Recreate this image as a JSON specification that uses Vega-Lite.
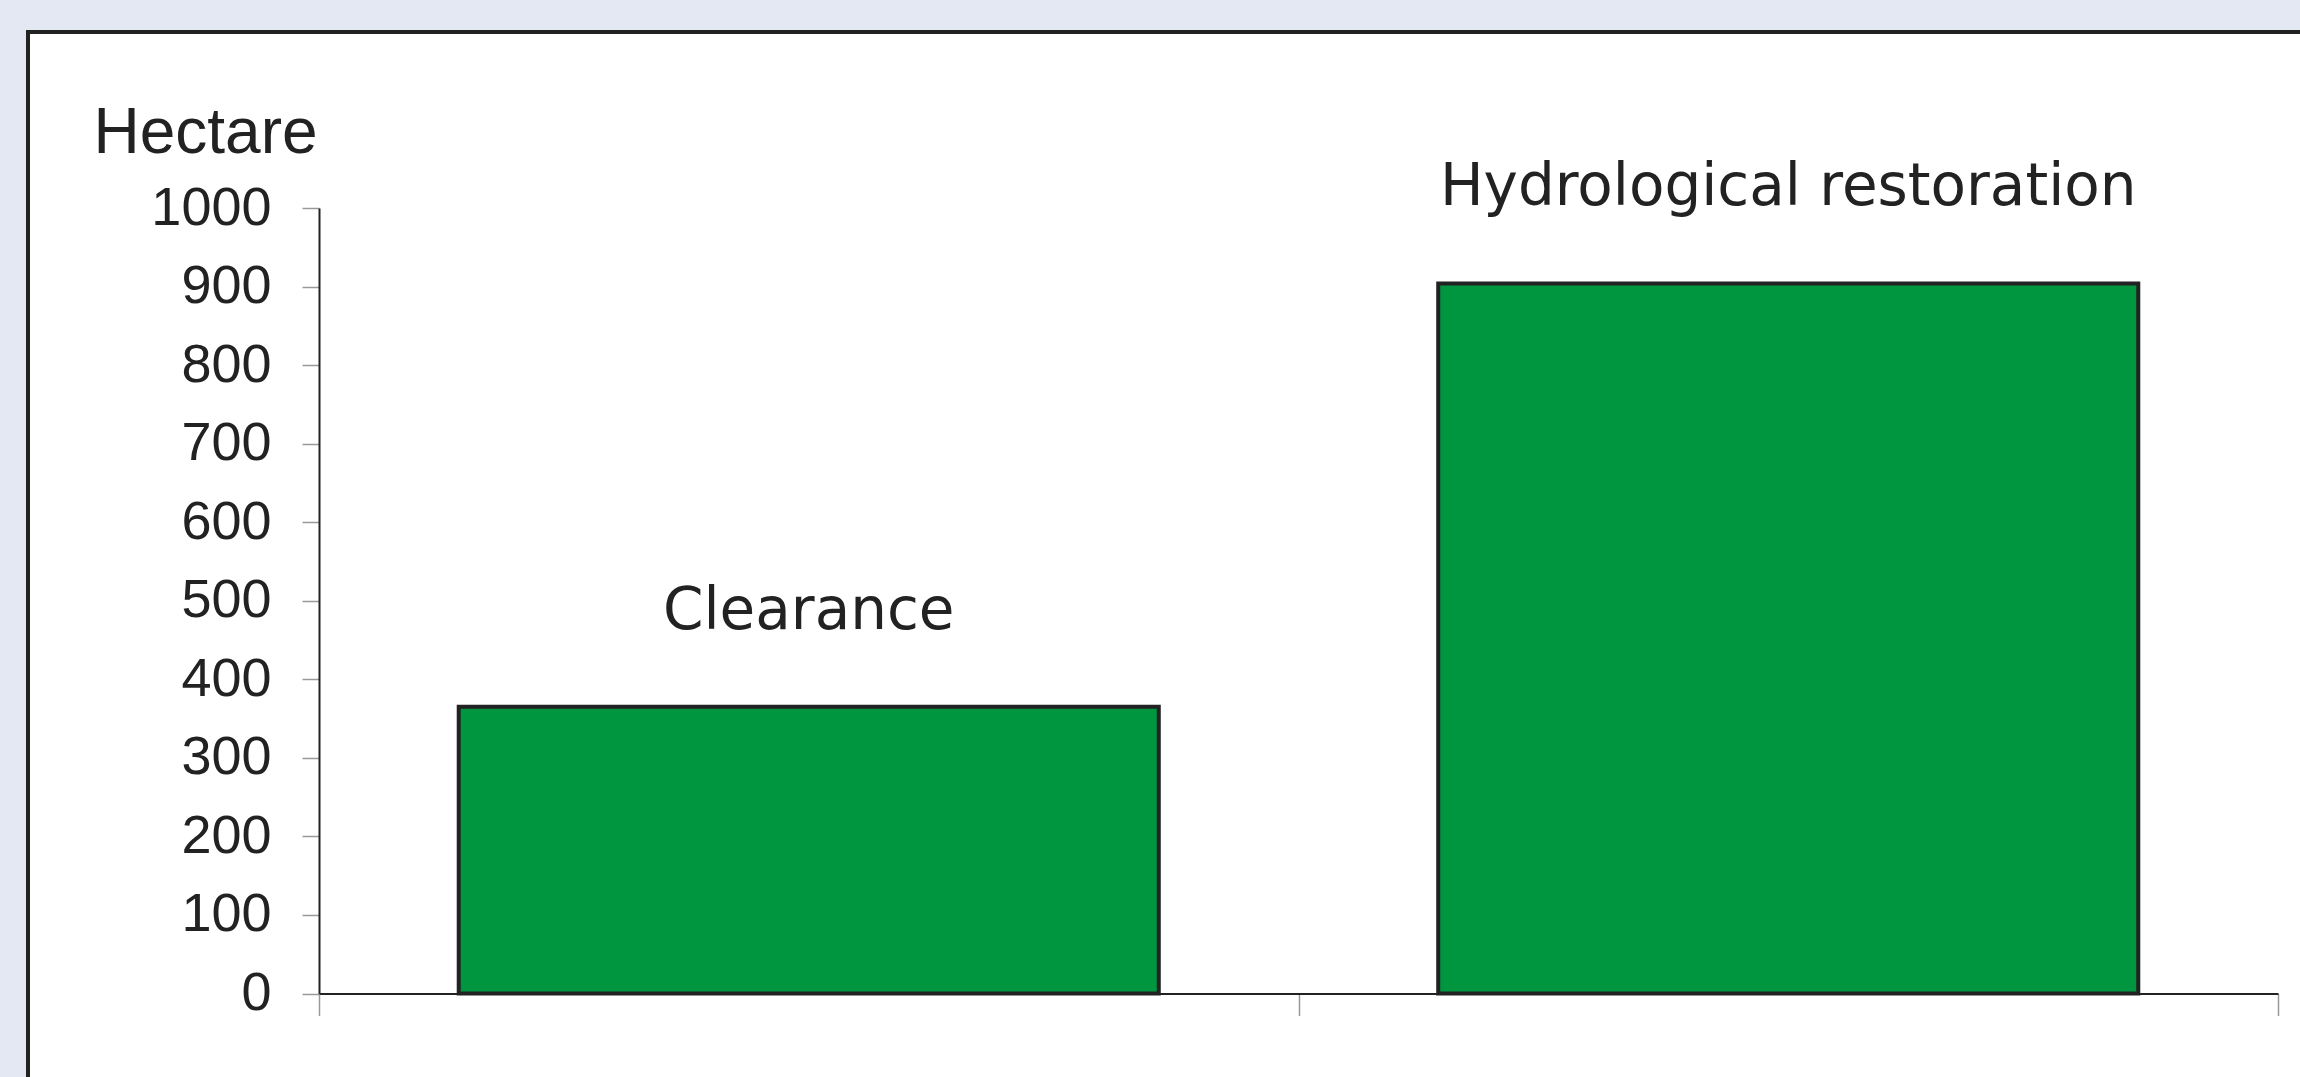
{
  "$schema": "https://vega.github.io/schema/vega-lite/v6.json",
  "autosize": "none",
  "width": 2282,
  "height": 1055,
  "padding": {"left": 28, "top": 32, "right": -10, "bottom": -10},
  "background": "#e3e8f2",
  "config": {
    "view": {"fill": "#ffffff", "stroke": "#222222", "strokeWidth": 4},
    "font": "Liberation Sans"
  },
  "data": {
    "values": [
      {"category": "Clearance", "hectare": 365},
      {"category": "Hydrological restoration", "hectare": 904}
    ]
  },
  "encoding": {
    "x": {
      "field": "category",
      "type": "nominal",
      "sort": null,
      "scale": {"range": [291, 2250], "paddingInner": 0, "paddingOuter": 0},
      "axis": {
        "title": null,
        "labels": false,
        "offset": -93.5,
        "tickBand": "extent",
        "domainColor": "#222222",
        "domainWidth": 2,
        "tickColor": "#999999",
        "tickWidth": 1.5,
        "tickSize": 22
      }
    },
    "y": {
      "field": "hectare",
      "type": "quantitative",
      "scale": {"domain": [0, 1000], "range": [961.5, 176], "nice": false},
      "axis": {
        "offset": -291,
        "values": [0, 100, 200, 300, 400, 500, 600, 700, 800, 900, 1000],
        "format": "d",
        "grid": false,
        "domainColor": "#222222",
        "domainWidth": 2,
        "tickColor": "#999999",
        "tickWidth": 1.5,
        "tickSize": 17,
        "labelFont": "Liberation Sans",
        "labelFontSize": 54,
        "labelColor": "#222222",
        "labelPadding": 31,
        "title": "Hectare",
        "titleFont": "Liberation Sans",
        "titleFontSize": 64,
        "titleFontWeight": "normal",
        "titleColor": "#222222",
        "titleAngle": 0,
        "titleAlign": "left",
        "titleBaseline": "alphabetic",
        "titleX": -226,
        "titleY": 120
      }
    }
  },
  "layer": [
    {
      "mark": {
        "type": "bar",
        "width": {"band": 0.7147},
        "color": "#009640",
        "stroke": "#222222",
        "strokeWidth": 4
      }
    },
    {
      "mark": {
        "type": "text",
        "font": "DejaVu Sans",
        "fontSize": 58,
        "color": "#222222",
        "baseline": "alphabetic",
        "align": "center",
        "dy": -78
      },
      "encoding": {"text": {"field": "category"}}
    }
  ]
}
